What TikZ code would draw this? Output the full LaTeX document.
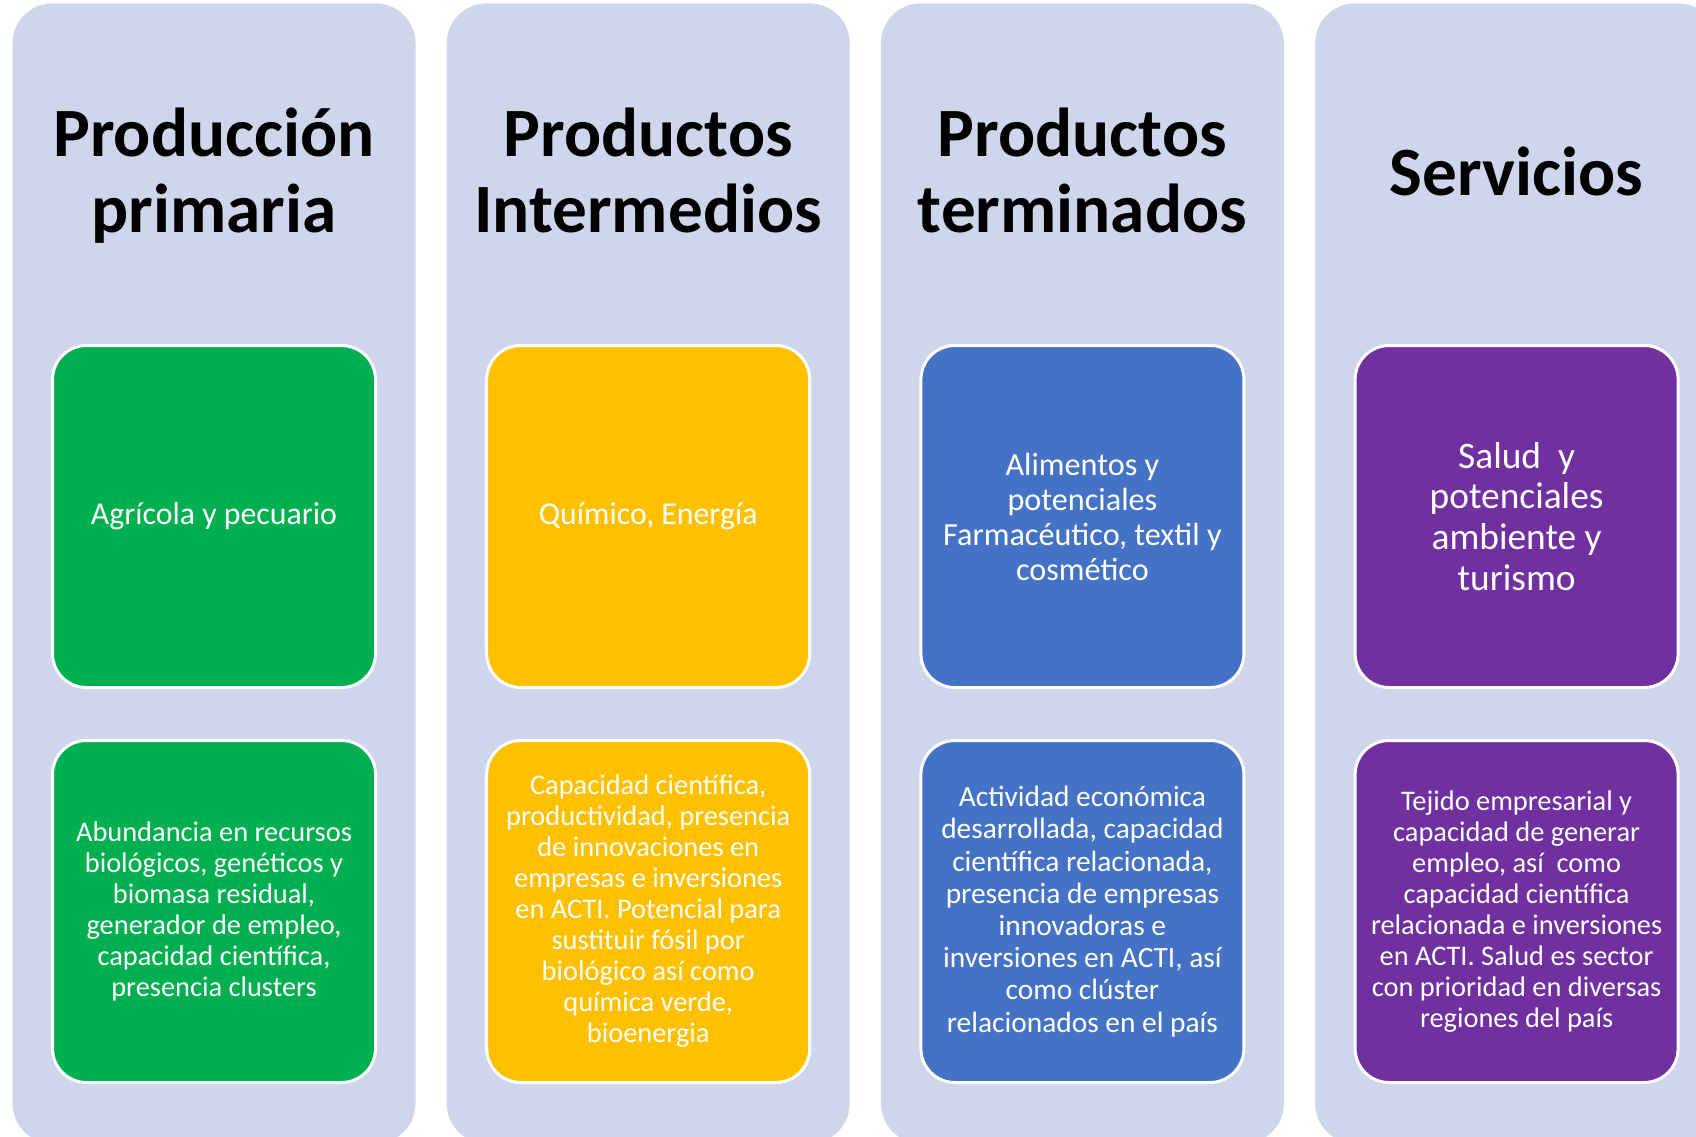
\documentclass[tikz,border=0pt]{standalone}
\usepackage{fontspec}
\setmainfont{Carlito}
\usepackage{xcolor}
\usepackage{tikz}
\usetikzlibrary{positioning}

\definecolor{lavanda}{HTML}{CFD5EA}
\definecolor{verde}{HTML}{00B050}
\definecolor{amarillo}{HTML}{FFC000}
\definecolor{azul}{HTML}{4472C4}
\definecolor{morado}{HTML}{7030A0}

\begin{document}
\begin{tikzpicture}[
        column/.style={rectangle, fill=lavanda, minimum width=201.5pt, minimum height=570pt, rounded corners=20pt, inner sep=0pt},
        heading/.style={align=center, inner sep=0pt, font=\fontsize{34.6}{38}\selectfont\bfseries, anchor=base},
        card/.style={rectangle, draw=white, line width=1.5pt, minimum width=161.5pt, minimum height=171pt, rounded corners=17pt, align=center, text=white, inner sep=0pt},
        cardtop/.style={card, font=\fontsize{15.9}{17.5}\selectfont},
        cardlow/.style={card, font=\fontsize{14.2}{15.5}\selectfont}
    ]

    \useasboundingbox (0,0) rectangle (848pt,-568pt);
    \clip (0,0) rectangle (848pt,-568pt);

    % Columns
    \node (col1) [column, anchor=north] at (107pt,-1.5pt) {};
    \node (col2) [column, right=15.2pt of col1] {};
    \node (col3) [column, right=15.2pt of col2] {};
    \node (col4) [column, right=15.2pt of col3] {};

    % Headings
    \node (head1) [heading] at ([yshift=-114.5pt]col1.north) {Producción\\primaria};
    \node (head2) [heading] at ([yshift=-114.5pt]col2.north) {Productos\\Intermedios};
    \node (head3) [heading] at ([yshift=-114.5pt]col3.north) {Productos\\terminados};
    \node (head4) [heading] at ([yshift=-96pt]col4.north) {Servicios};

    % Sectors
    \node (sector1) [cardtop, fill=verde, below=170.5pt of col1.north] {Agrícola y pecuario};
    \node (sector2) [cardtop, fill=amarillo, below=170.5pt of col2.north] {Químico, Energía};
    \node (sector3) [cardtop, fill=azul, below=170.5pt of col3.north, font=\fontsize{16.1}{17.5}\selectfont] {Alimentos y\\potenciales\\Farmacéutico, textil y\\cosmético};
    \node (sector4) [cardtop, fill=morado, below=170.5pt of col4.north, font=\fontsize{18.7}{20.4}\selectfont] {Salud\ \ y\\potenciales\\ambiente y\\turismo};

    % Strengths
    \node (fort1) [cardlow, fill=verde, below=25pt of sector1] {Abundancia en recursos\\biológicos, genéticos y\\biomasa residual,\\generador de empleo,\\capacidad científica,\\presencia clusters};
    \node (fort2) [cardlow, fill=amarillo, below=25pt of sector2] {Capacidad científica,\\productividad, presencia\\de innovaciones en\\empresas e inversiones\\en ACTI. Potencial para\\sustituir fósil por\\biológico así como\\química verde,\\bioenergia};
    \node (fort3) [cardlow, fill=azul, below=25pt of sector3, font=\fontsize{14.7}{16.1}\selectfont] {Actividad económica\\desarrollada, capacidad\\científica relacionada,\\presencia de empresas\\innovadoras e\\inversiones en ACTI, así\\como clúster\\relacionados en el país};
    \node (fort4) [cardlow, fill=morado, below=25pt of sector4] {Tejido empresarial y\\capacidad de generar\\empleo, así\ \ como\\capacidad científica\\relacionada e inversiones\\en ACTI. Salud es sector\\con prioridad en diversas\\regiones del país};

    \end{tikzpicture}
\end{document}
